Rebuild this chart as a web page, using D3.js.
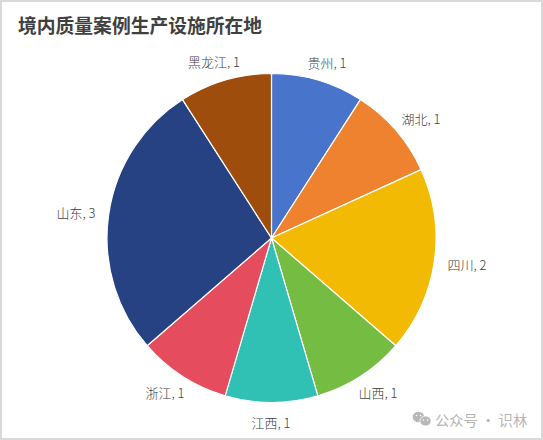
<!DOCTYPE html>
<html>
<head>
<meta charset="utf-8">
<script src="https://cdn.jsdelivr.net/npm/d3@7"></script>
<style>
html,body{margin:0;padding:0;background:#fff;overflow:hidden}
text{font-family:"Noto Sans CJK SC","Noto Sans",sans-serif}
</style>
</head>
<body>
<svg id="chart" width="543" height="440" style="display:block"></svg>
<script>
const categories = ["贵州","湖北","四川","山西","江西","浙江","山东","黑龙江"];
const seriesValues = [1,1,2,1,1,1,3,1];
const sliceColors = ["#4874cb","#ee822f","#f2ba02","#75bd42","#30c0b4","#e54c5e","#264283","#9f4d0c"];
const labelAnchors = [[327,62],[421,118],[467,264],[378,392],[271,422],[165,392],[76,212],[214,61]];

const svg = d3.select("#chart");
const width = 543, height = 440;
const cx = 271.5, cy = 238, radius = 164.5;

// chart area with a 2px grey frame
svg.append("rect").attr("x",1).attr("y",1).attr("width",width-2).attr("height",height-2)
  .attr("fill","#fff").attr("stroke","#d9d9d9").attr("stroke-width",2);

svg.append("text").attr("x",18).attr("y",32.5)
  .attr("font-size",18.8).attr("font-weight",700).attr("fill","#404040")
  .text("境内质量案例生产设施所在地");

const pie = d3.pie().sort(null).value(d => d)(seriesValues);
const arc = d3.arc().innerRadius(0).outerRadius(radius);

svg.append("g").attr("transform",`translate(${cx},${cy})`)
  .selectAll("path").data(pie).join("path")
  .attr("d",arc)
  .attr("fill",(d,i)=>sliceColors[i])
  .attr("stroke","#fff").attr("stroke-width",1.2);

svg.append("g").selectAll("text").data(categories).join("text")
  .attr("x",(d,i)=>labelAnchors[i][0])
  .attr("y",(d,i)=>labelAnchors[i][1])
  .attr("text-anchor","middle").attr("dominant-baseline","central")
  .attr("font-size",13).attr("font-weight",300).attr("fill","#404040")
  .text((d,i)=>`${d}, ${seriesValues[i]}`);

// account mark in the lower right corner: two chat bubbles and the account name
const mark = svg.append("g");
mark.append("ellipse").attr("cx",418.5).attr("cy",417).attr("rx",5.8).attr("ry",5.2).attr("fill","#b8b8b8");
mark.append("ellipse").attr("cx",425.5).attr("cy",421).attr("rx",5.6).attr("ry",5).attr("fill","#b8b8b8").attr("stroke","#fff").attr("stroke-width",0.8);
[[416.5,415.5],[420.5,415.5],[423.5,420],[427.5,420]].forEach(p =>
  mark.append("circle").attr("cx",p[0]).attr("cy",p[1]).attr("r",0.8).attr("fill","#fff"));
svg.append("text").attr("x",435).attr("y",419)
  .attr("dominant-baseline","central").attr("font-size",14.3).attr("fill","#b5b5b5")
  .text("公众号 · 识林");
</script>
</body>
</html>
